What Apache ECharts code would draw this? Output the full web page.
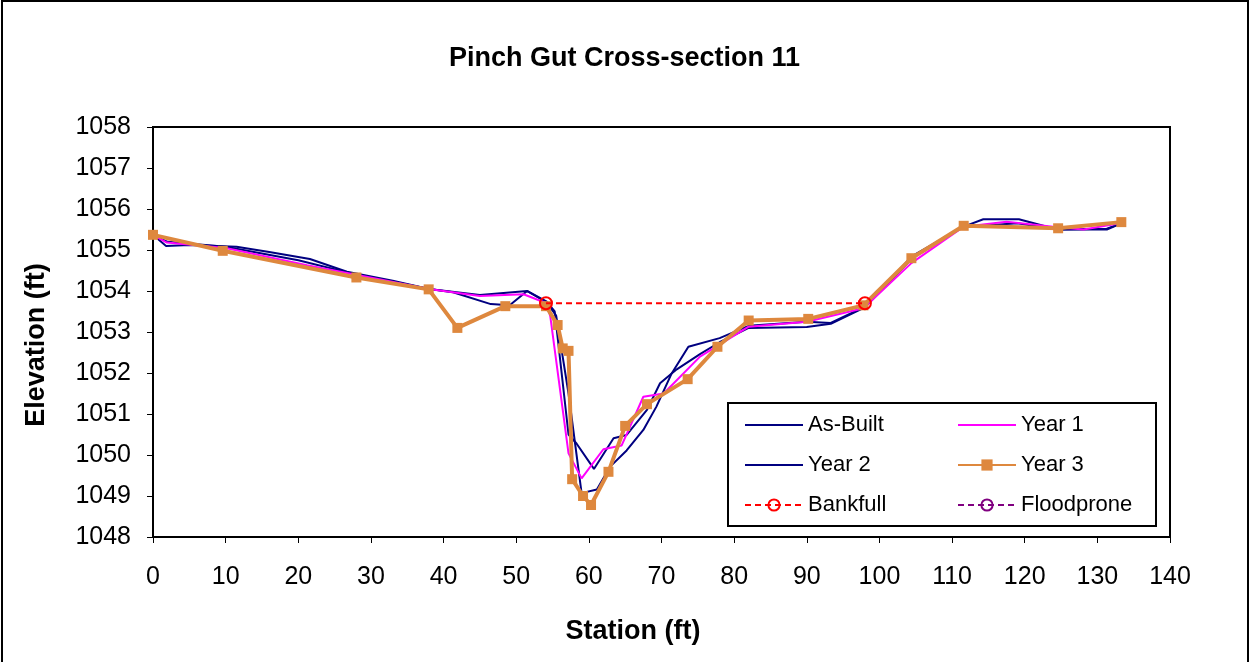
<!DOCTYPE html>
<html><head><meta charset="utf-8">
<script src="https://cdn.jsdelivr.net/npm/echarts@6/dist/echarts.min.js"></script>
<style>
html,body{margin:0;padding:0;background:#fff;}
#frame{position:absolute;left:1px;top:0;width:1248px;height:670px;border:2px solid #000;box-sizing:border-box;}
#c{position:absolute;left:0;top:0;width:1249px;height:662px;}
</style></head>
<body><div id="frame"></div><div id="c"></div>
<script>
const titleText = "Pinch Gut Cross-section 11";
const xName = "Station (ft)";
const yName = "Elevation (ft)";

const asBuiltX = [0, 1.8, 5, 11.5, 16, 21.6, 26.7, 33, 38, 41.3, 46.5, 49.1, 51.5, 54.2, 55.3, 56, 57.2, 58.3, 60.7, 63.4, 65.2, 68, 69.8, 72.1, 75.3, 78, 82, 90, 93.3, 98, 104.5, 111.6, 114.3, 119.2, 124.5, 131.3, 133.3];
const asBuiltY = [1055.37, 1055.10, 1055.12, 1055.08, 1054.95, 1054.78, 1054.47, 1054.25, 1054.05, 1053.97, 1053.68, 1053.65, 1054.00, 1053.74, 1053.50, 1052.40, 1050.50, 1050.28, 1049.66, 1050.41, 1050.49, 1051.10, 1051.75, 1052.09, 1052.46, 1052.75, 1053.10, 1053.12, 1053.20, 1053.60, 1054.80, 1055.57, 1055.75, 1055.75, 1055.50, 1055.50, 1055.65];

const year1X = [0, 1.9, 10, 21.2, 27.6, 38, 45, 51, 54.2, 54.7, 57.2, 59.0, 62.0, 64.5, 67.5, 70.3, 75.3, 82, 90, 97.8, 104.4, 111.6, 117.5, 123.9, 128.1, 133.1];
const year1Y = [1055.37, 1055.18, 1055.05, 1054.63, 1054.41, 1054.05, 1053.88, 1053.92, 1053.70, 1053.37, 1050.04, 1049.43, 1050.14, 1050.23, 1051.42, 1051.50, 1052.40, 1053.13, 1053.25, 1053.58, 1054.68, 1055.57, 1055.69, 1055.57, 1055.50, 1055.65];

const year2X = [0, 2, 10, 20, 28, 38, 45, 51.5, 54.2, 55.5, 57.2, 59.0, 61.1, 62.9, 65.2, 67.5, 69.3, 71.4, 73.7, 78, 82, 90, 93.3, 98, 104.5, 111.6, 114.5, 119, 124.5, 131.3, 133.3];
const year2Y = [1055.37, 1055.20, 1055.08, 1054.75, 1054.40, 1054.05, 1053.90, 1054.00, 1053.72, 1053.40, 1051.50, 1049.07, 1049.16, 1049.71, 1050.11, 1050.61, 1051.18, 1051.99, 1052.64, 1052.85, 1053.15, 1053.25, 1053.22, 1053.62, 1054.85, 1055.57, 1055.60, 1055.65, 1055.50, 1055.52, 1055.65];

const year3X = [0, 9.6, 28.0, 37.95, 41.9, 48.5, 54.1, 55.7, 56.4, 57.2, 57.7, 59.2, 60.3, 62.7, 65.0, 68.0, 73.6, 77.7, 82.0, 90.2, 97.8, 104.4, 111.6, 124.6, 133.3];
const year3Y = [1055.37, 1054.98, 1054.33, 1054.04, 1053.10, 1053.63, 1053.63, 1053.17, 1052.60, 1052.54, 1049.41, 1049.00, 1048.78, 1049.59, 1050.71, 1051.24, 1051.85, 1052.64, 1053.28, 1053.32, 1053.65, 1054.80, 1055.59, 1055.53, 1055.68];

const bankfullX = [54.1, 98.0];
const bankfullY = [1053.70, 1053.70];

const floodproneX = [];
const floodproneY = [];

const xTicks = [0, 10, 20, 30, 40, 50, 60, 70, 80, 90, 100, 110, 120, 130, 140];
const yTicks = [1048, 1049, 1050, 1051, 1052, 1053, 1054, 1055, 1056, 1057, 1058];

function pairs(xs, ys){ return xs.map((x,i)=>[x, ys[i]]); }

const FONT = "Liberation Sans, Arial, sans-serif";
const chart = echarts.init(document.getElementById('c'), null, {renderer:'canvas'});
const legendText = {fontFamily: FONT, fontSize: 22, color: '#000'};
const nameFont = 'bold 27px ' + FONT;
const hideSym = {opacity: 0};
chart.setOption({
  animation: false,
  backgroundColor: 'transparent',
  title: {text: titleText, left: 'center', top: 40,
    textStyle: {fontFamily: FONT, fontSize: 27, fontWeight: 'bold', color: '#000'}},
  grid: {left: 153, top: 127, width: 1017, height: 410, show: true, borderColor: '#000', borderWidth: 2, backgroundColor: '#fff'},
  xAxis: {type: 'value', min: xTicks[0], max: xTicks[xTicks.length-1], interval: 10,
    axisLine: {show: true, onZero: false, lineStyle: {color: '#000', width: 2}},
    axisTick: {show: true, inside: false, length: 6, lineStyle: {color: '#000'}},
    axisLabel: {fontFamily: FONT, fontSize: 25, color: '#000', margin: 28},
    splitLine: {show: false}},
  yAxis: {type: 'value', min: yTicks[0], max: yTicks[yTicks.length-1], interval: 1,
    axisLine: {show: true, lineStyle: {color: '#000', width: 2}},
    axisTick: {show: true, inside: false, length: 6, lineStyle: {color: '#000'}},
    axisLabel: {fontFamily: FONT, fontSize: 25, color: '#000', margin: 22, formatter: v => String(v)},
    splitLine: {show: false}},
  legend: [
    {orient: 'vertical', left: 744, top: 414, itemWidth: 58, itemHeight: 14, itemGap: 18,
     data: [{name: 'As-Built', itemStyle: hideSym}, {name: 'Year 2', itemStyle: hideSym}, 'Bankfull'],
     textStyle: legendText, padding: 0},
    {orient: 'vertical', left: 957, top: 414, itemWidth: 58, itemHeight: 14, itemGap: 18,
     data: [{name: 'Year 1', itemStyle: hideSym}, 'Year 3', 'Floodprone'],
     textStyle: legendText, padding: 0}
  ],
  graphic: [
    {type: 'rect', left: 727, top: 402, z: 10, silent: true,
     shape: {width: 428, height: 123}, style: {fill: 'rgba(0,0,0,0)', stroke: '#000', lineWidth: 2}},
    {type: 'text', x: 633, y: 632, silent: true,
     style: {text: xName, font: nameFont, fill: '#000', align: 'center', verticalAlign: 'middle', textAlign: 'center', textVerticalAlign: 'middle'}},
    {type: 'text', x: 37, y: 345, rotation: Math.PI / 2, silent: true,
     style: {text: yName, font: nameFont, fill: '#000', align: 'center', verticalAlign: 'middle', textAlign: 'center', textVerticalAlign: 'middle'}}
  ],
  series: [
    {name: 'As-Built', type: 'line', data: pairs(asBuiltX, asBuiltY), symbol: 'none', z: 2,
     lineStyle: {color: '#000080', width: 2}, itemStyle: {color: '#000080'}},
    {name: 'Year 1', type: 'line', data: pairs(year1X, year1Y), symbol: 'none', z: 3,
     lineStyle: {color: '#FF00FF', width: 2}, itemStyle: {color: '#FF00FF'}},
    {name: 'Year 2', type: 'line', data: pairs(year2X, year2Y), symbol: 'none', z: 2,
     lineStyle: {color: '#000080', width: 2}, itemStyle: {color: '#000080'}},
    {name: 'Year 3', type: 'line', data: pairs(year3X, year3Y), symbol: 'rect', symbolSize: 10, z: 4,
     lineStyle: {color: '#DE883E', width: 4}, itemStyle: {color: '#DE883E'}},
    {name: 'Bankfull', type: 'line', data: pairs(bankfullX, bankfullY), symbol: 'circle', symbolSize: 12, z: 5,
     lineStyle: {color: '#FF0000', width: 2, type: [6, 4]},
     itemStyle: {color: 'rgba(255,255,255,0)', borderColor: '#FF0000', borderWidth: 2}},
    {name: 'Floodprone', type: 'line', data: pairs(floodproneX, floodproneY), symbol: 'circle', symbolSize: 12, z: 5,
     lineStyle: {color: '#800080', width: 2, type: [6, 4]},
     itemStyle: {color: 'rgba(255,255,255,0)', borderColor: '#800080', borderWidth: 2}}
  ]
});
</script></body></html>
